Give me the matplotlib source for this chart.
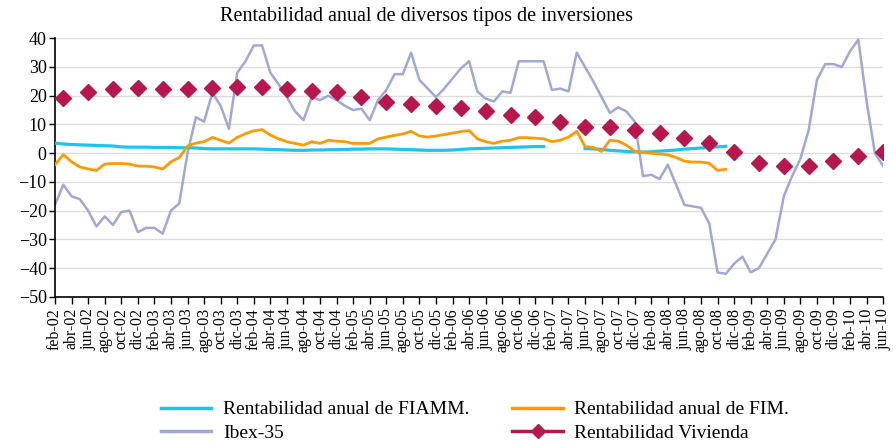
import numpy as np
import matplotlib
matplotlib.use("Agg")
from matplotlib import pyplot as plt
from matplotlib.lines import Line2D

plt.rcParams['font.family'] = ['Liberation Serif', 'DejaVu Serif']

# months feb-02 .. jun-10 (101 monthly categories)
meses = ['ene', 'feb', 'mar', 'abr', 'may', 'jun', 'jul', 'ago', 'sep', 'oct', 'nov', 'dic']
categorias = []
for anio in range(2, 11):
    for m in range(12):
        if anio == 2 and m < 1:
            continue
        if anio == 10 and m > 5:
            continue
        categorias.append("%s-%02d" % (meses[m], anio))

nan = np.nan
fiamm = [3.5, 3.2, 3.0, 2.9, 2.8, 2.7, 2.6, 2.5, 2.2, 2.1, 2.1, 2.1, 2.0, 2.0, 2.0, 1.9,
         1.9, 1.8, 1.6, 1.5, 1.5, 1.5, 1.5, 1.5, 1.5, 1.4, 1.3, 1.2, 1.1, 1.0, 1.0, 1.1,
         1.1, 1.2, 1.2, 1.3, 1.4, 1.4, 1.5, 1.5, 1.5, 1.4, 1.3, 1.2, 1.1, 1.0, 1.0, 1.0,
         1.1, 1.3, 1.5, 1.6, 1.7, 1.8, 1.9, 2.0, 2.1, 2.2, 2.3, 2.3, nan, nan, nan, nan,
         1.6, 1.5, 1.3, 1.0, 0.8, 0.6, 0.5, 0.4, 0.5, 0.7, 0.9, 1.1, 1.4, 1.6, 1.8, 2.0,
         2.2, 2.4]
fim = [-4, -0.5, -3, -4.8, -5.5, -6, -3.8, -3.6, -3.6, -3.8, -4.5, -4.5, -4.8, -5.5, -3, -1.5,
       2.5, 3.5, 4, 5.5, 4.5, 3.5, 5.5, 6.8, 7.8, 8.2, 6.3, 5, 4, 3.4, 2.8, 4,
       3.4, 4.5, 4.2, 4, 3.4, 3.4, 3.4, 5, 5.6, 6.2, 6.7, 7.6, 6, 5.6, 6, 6.5,
       7, 7.5, 7.9, 5, 4, 3.4, 4.2, 4.5, 5.4, 5.4, 5.2, 5, 4, 4.5, 5.6, 7.6,
       2.3, 2, 0.6, 4.5, 4.2, 2.8, 0.6, 0.3, 0, -0.3, -0.6, -1.5, -2.8, -3.1, -3.1, -3.5,
       -6, -5.6]
ibex = [-18, -11, -15, -16, -20, -25.5, -22, -25, -20.5, -20, -27.5, -26, -26, -28, -20, -17.5,
        0, 12.5, 11, 21, 16.5, 8.5, 28, 32, 37.5, 37.5, 28, 24, 19.5, 14.5, 11.5, 19.5,
        18.5, 20, 18.5, 16.5, 15, 15.5, 11.5, 18.5, 22, 27.5, 27.5, 35, 25.5, 22.5, 19.5, 22.5,
        26, 29.5, 32, 21.5, 19, 18, 21.5, 21, 32, 32, 32, 32, 22, 22.5, 21.5, 35,
        30, 25, 19.5, 14, 16, 14.5, 11, -8, -7.5, -9, -4, -11, -18, -18.5, -19, -24.5,
        -41.5, -42, -38.5, -36, -41.5, -40, -35, -30, -15, -8, -2, 8, 25.5, 31, 31, 30,
        35.5, 39.5, 18, 0, -4.5]
# quarterly (mar, jun, sep, dic)
vivienda = [19.1, 21.4, 22.2, 22.6, 22.2, 22.2, 22.6, 23.1, 23.1, 22.2, 21.5, 21.3, 19.5, 17.8,
            17.2, 16.3, 15.8, 14.6, 13.2, 12.6, 10.9, 9.1, 9.1, 8.1, 7.0, 5.3, 3.5, 0.5, -3.3,
            -4.5, -4.5, -2.8, -0.9, 0.5]

c_fiamm = '#1EC4F0'
c_fim = '#FF9A00'
c_ibex = '#A0A8D6'
c_viv = '#B8164F'

fig = plt.figure(figsize=(8.93, 4.45), dpi=100)
ax = fig.add_axes([0.0616, 0.333, 0.9274, 0.581])

x_all = np.arange(len(categorias))
ax.plot(x_all[:len(fiamm)], fiamm, color=c_fiamm, lw=2.3, zorder=3)
ax.plot(x_all[:len(fim)], fim, color=c_fim, lw=2.0, zorder=3)
ax.plot(x_all[:len(ibex)], ibex, color=c_ibex, lw=1.8, zorder=2)
x_viv = x_all[1::3]
ax.plot(x_viv, vivienda, ls='none', marker='D', ms=8.5, color=c_viv, zorder=4)

ax.set_ylim(-50, 40)
ax.set_yticks(range(-50, 41, 10))
ax.set_xlim(0, len(categorias) - 1)
ax.set_xticks(x_all[::2])
ax.set_xticklabels(categorias[::2], rotation=90, fontsize=11.5)
ax.tick_params(axis='y', labelsize=13, length=4, width=1, direction='out', pad=2)
ax.tick_params(axis='x', length=5, width=1, direction='out', pad=3)
ax.grid(axis='y', color='#DCDCDC', lw=1)
ax.set_axisbelow(True)
for s in ['top', 'right']:
    ax.spines[s].set_visible(False)
for s in ['left', 'bottom']:
    ax.spines[s].set_linewidth(1.2)

fig.text(0.478, 0.962, "Rentabilidad anual de diversos tipos de inversiones",
         ha='center', va='center', fontsize=14.5)

handles = [Line2D([], [], color=c_fiamm, lw=2.5),
           Line2D([], [], color=c_ibex, lw=2.5),
           Line2D([], [], color=c_fim, lw=2.5),
           Line2D([], [], color=c_viv, lw=2.5, marker='D', ms=7)]
labels = ["Rentabilidad anual de FIAMM.", "Ibex-35",
          "Rentabilidad anual de FIM.", "Rentabilidad Vivienda"]
fig.legend(handles, labels, ncol=2, loc='center', bbox_to_anchor=(0.532, 0.053),
           frameon=False, fontsize=14, handlelength=2.6, columnspacing=2.2,
           labelspacing=0.3, handletextpad=0.6)

fig.savefig("out.png", dpi=100)
